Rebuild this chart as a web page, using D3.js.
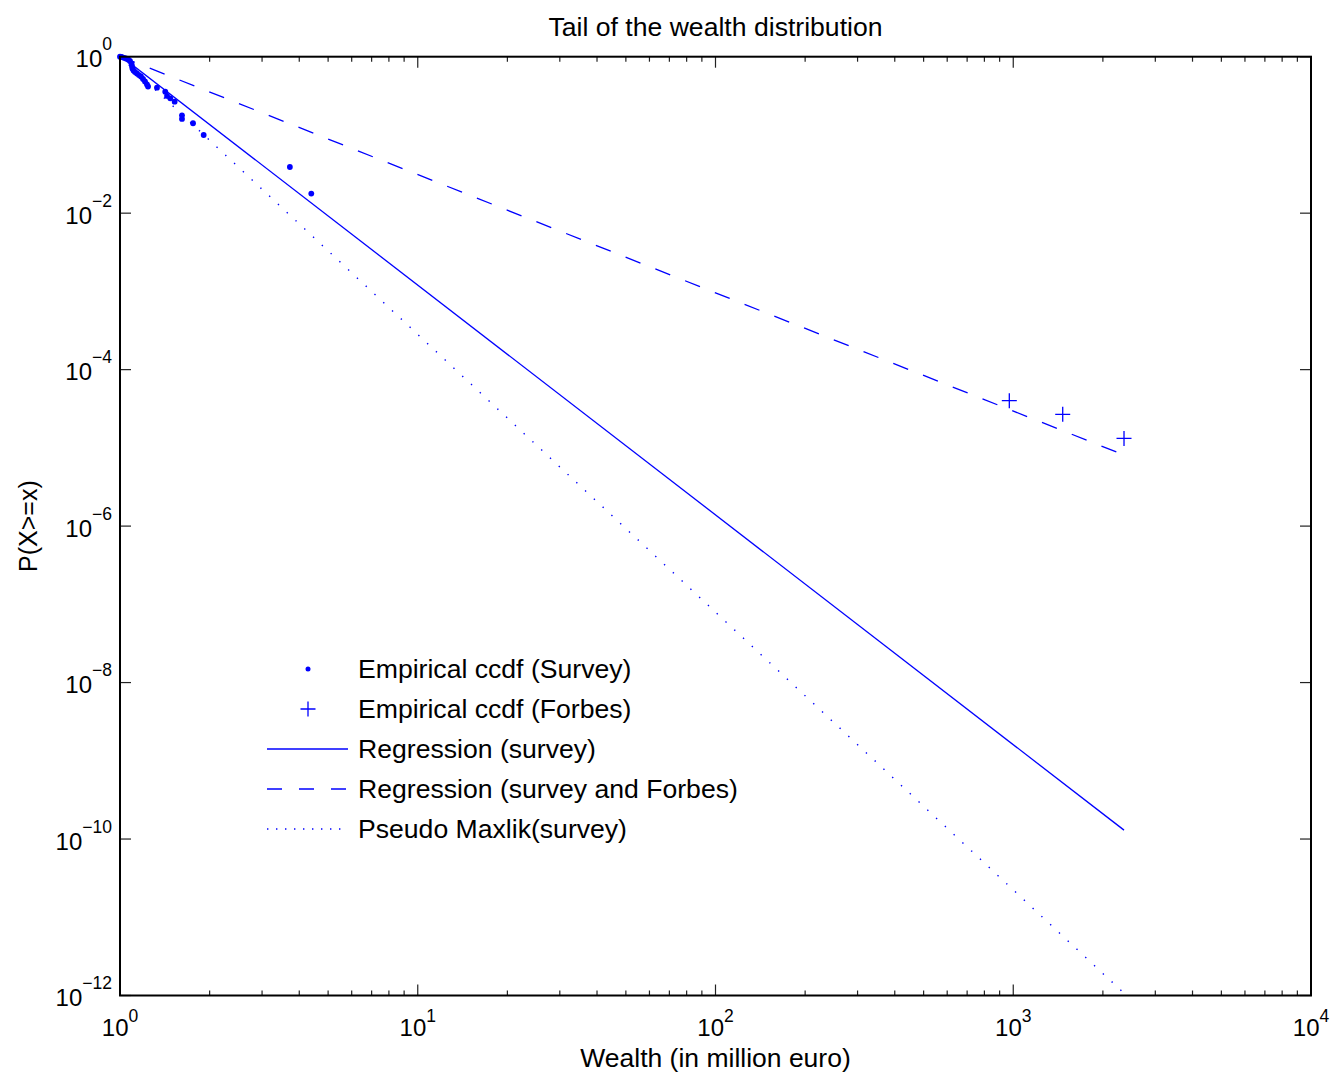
<!DOCTYPE html>
<html>
<head>
<meta charset="utf-8">
<script src="https://cdn.jsdelivr.net/npm/d3@7"></script>
<style>
  body { margin: 0; background: #fff; }
  text { font-family: "Liberation Sans", Arial, Helvetica, sans-serif; fill: #000; }
</style>
</head>
<body>
<div id="plot"></div>
<script>
// empirical ccdf of the survey sample: [wealth, P(X>=x)]
var surveyPts = [
  [1.000, 1.000], [1.008, 0.992], [1.016, 0.985], [1.031, 0.968], [1.047, 0.948], [1.064, 0.921],
  [1.080, 0.881], [1.093, 0.819], [1.097, 0.760], [1.101, 0.707], [1.110, 0.666],
  [1.123, 0.637], [1.140, 0.610], [1.158, 0.583], [1.176, 0.558], [1.195, 0.519],
  [1.213, 0.482], [1.232, 0.441], [1.242, 0.416], [1.331, 0.402], [1.419, 0.357],
  [1.439, 0.315], [1.475, 0.294], [1.526, 0.266], [1.615, 0.178], [1.615, 0.160],
  [1.759, 0.141], [1.910, 0.0998], [3.72, 0.0389], [4.39, 0.0178]
];
// empirical ccdf of the Forbes list
var forbesPts = [[970, 4.01e-5], [1466, 2.68e-5], [2355, 1.32e-5]];
// fitted power laws (straight lines in log-log)
var regSurvey = [[1, 1.04], [2355, 1.30e-10]];
var regAll = [[1, 1.01], [2355, 8.1e-6]];
var maxlik = [[1, 1.0], [2355, 1.07e-12]];

var legendLabels = ["Empirical ccdf (Survey)", "Empirical ccdf (Forbes)", "Regression (survey)",
                    "Regression (survey and Forbes)", "Pseudo Maxlik(survey)"];
var xTickExp = [0, 1, 2, 3, 4];
var yTickExp = [0, -2, -4, -6, -8, -10, -12];

var W = 1334, H = 1077;
var L = 120, R = 1311, T = 56.7, B = 995.5;
var blue = "#0000ff";

var svg = d3.select("#plot").append("svg")
  .attr("width", W).attr("height", H);

var x = d3.scaleLog().domain([1, 1e4]).range([L, R]);
var y = d3.scaleLog().domain([1e-12, 1]).range([B, T]);

svg.append("clipPath").attr("id", "clip")
  .append("rect").attr("x", L).attr("y", T).attr("width", R - L).attr("height", B - T);

// ticks (inside, mirrored on top/right)
var minor = [];
for (var e = 0; e < 4; e++) for (var k = 2; k < 10; k++) minor.push(k * Math.pow(10, e));
var tg = svg.append("g").attr("stroke", "#222").attr("stroke-width", 1.2);
minor.forEach(function(v) {
  tg.append("line").attr("x1", x(v)).attr("x2", x(v)).attr("y1", B).attr("y2", B - 5);
  tg.append("line").attr("x1", x(v)).attr("x2", x(v)).attr("y1", T).attr("y2", T + 5);
});
xTickExp.forEach(function(p) {
  var v = Math.pow(10, p);
  tg.append("line").attr("x1", x(v)).attr("x2", x(v)).attr("y1", B).attr("y2", B - 11);
  tg.append("line").attr("x1", x(v)).attr("x2", x(v)).attr("y1", T).attr("y2", T + 11);
});
yTickExp.forEach(function(p) {
  var v = Math.pow(10, p);
  tg.append("line").attr("y1", y(v)).attr("y2", y(v)).attr("x1", L).attr("x2", L + 11);
  tg.append("line").attr("y1", y(v)).attr("y2", y(v)).attr("x1", R).attr("x2", R - 11);
});

function expText(p) { return p < 0 ? "\u2212" + (-p) : "" + p; }

// x tick labels
xTickExp.forEach(function(p) {
  var t = svg.append("text").attr("x", x(Math.pow(10, p))).attr("y", 1036)
    .attr("text-anchor", "middle").style("font-size", "24px");
  t.append("tspan").text("10");
  t.append("tspan").attr("dy", -14).style("font-size", "17.5px").text(expText(p));
});
// y tick labels
yTickExp.forEach(function(p) {
  var t = svg.append("text").attr("x", 112).attr("y", y(Math.pow(10, p)) + 10.5)
    .attr("text-anchor", "end").style("font-size", "24px");
  t.append("tspan").text("10");
  t.append("tspan").attr("dy", -17).style("font-size", "17.5px").text(expText(p));
});

// data layer
var plot = svg.append("g").attr("clip-path", "url(#clip)");
var line = d3.line().x(function(d) { return x(d[0]); }).y(function(d) { return y(d[1]); });

plot.append("path").attr("d", line(maxlik)).attr("fill", "none")
  .attr("stroke", blue).attr("stroke-width", 1.4).attr("stroke-dasharray", "1.4,10.6");
plot.append("path").attr("d", line(regAll)).attr("fill", "none")
  .attr("stroke", blue).attr("stroke-width", 1.3).attr("stroke-dasharray", "16,16");
plot.append("path").attr("d", line(regSurvey)).attr("fill", "none")
  .attr("stroke", blue).attr("stroke-width", 1.3);

svg.selectAll("circle.survey").data(surveyPts).enter().append("circle")
  .attr("class", "survey")
  .attr("cx", function(d) { return x(d[0]); })
  .attr("cy", function(d) { return y(d[1]); })
  .attr("r", 2.9).attr("fill", blue);

svg.selectAll("path.forbes").data(forbesPts).enter().append("path")
  .attr("class", "forbes")
  .attr("transform", function(d) { return "translate(" + x(d[0]) + "," + y(d[1]) + ")"; })
  .attr("d", "M-7.5,0H7.5M0,-7.5V7.5")
  .attr("stroke", blue).attr("stroke-width", 1.3).attr("fill", "none");

// axes box
svg.append("rect").attr("x", L).attr("y", T).attr("width", R - L).attr("height", B - T)
  .attr("fill", "none").attr("stroke", "#000").attr("stroke-width", 2);

// legend
var lg = svg.append("g");
legendLabels.forEach(function(lab, i) {
  var yy = 669 + i * 40;
  lg.append("text").attr("x", 358).attr("y", yy + 9).style("font-size", "26.6px").text(lab);
  if (i === 0) {
    lg.append("circle").attr("cx", 308).attr("cy", yy).attr("r", 2.5).attr("fill", blue);
  } else if (i === 1) {
    lg.append("path").attr("d", "M300.5," + yy + "H315.5M308," + (yy - 7.5) + "V" + (yy + 7.5))
      .attr("stroke", blue).attr("stroke-width", 1.3);
  } else {
    var dash = i === 3 ? "15,17" : (i === 4 ? "1.4,7.6" : null);
    lg.append("line").attr("x1", 267).attr("x2", 348).attr("y1", yy).attr("y2", yy)
      .attr("stroke", blue).attr("stroke-width", 1.3).attr("stroke-dasharray", dash);
  }
});

// titles
svg.append("text").attr("x", (L + R) / 2).attr("y", 36).attr("text-anchor", "middle")
  .style("font-size", "26.6px").text("Tail of the wealth distribution");
svg.append("text").attr("x", (L + R) / 2).attr("y", 1067).attr("text-anchor", "middle")
  .style("font-size", "26.5px").text("Wealth (in million euro)");
svg.append("text").attr("transform", "translate(37," + (T + B) / 2 + ") rotate(-90)")
  .attr("text-anchor", "middle").style("font-size", "25px").text("P(X>=x)");
</script>
</body>
</html>
